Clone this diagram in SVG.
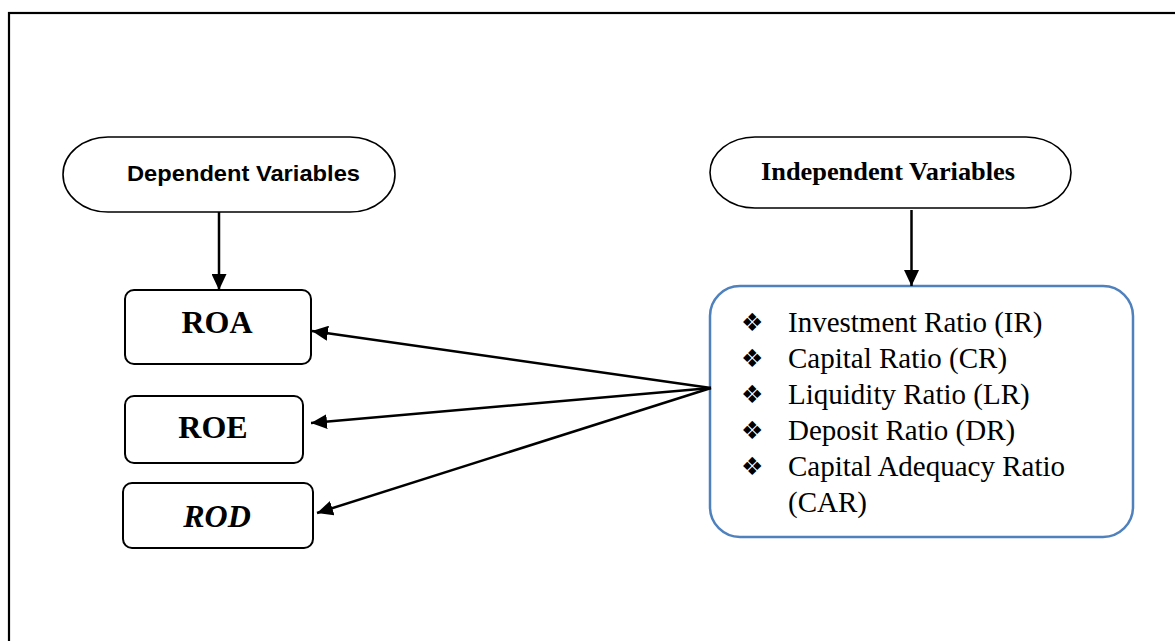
<svg xmlns="http://www.w3.org/2000/svg" width="1175" height="641" viewBox="0 0 1175 641">
<defs>
<style>
.frame{fill:none;stroke:#000;stroke-width:2.2}
.oval{fill:#fff;stroke:#000;stroke-width:1.6}
.box{fill:#fff;stroke:#000;stroke-width:2}
.blue{fill:#fff;stroke:#4f81bd;stroke-width:2.5}
.conn{stroke:#000;stroke-width:2.5;fill:none}
.tnr{font-family:"Liberation Serif","Times New Roman",serif;fill:#000}
.sans{font-family:"Liberation Sans",Arial,sans-serif;fill:#000}
.bul{font-family:"DejaVu Sans",sans-serif;font-size:25px;fill:#000}
</style>
<marker id="ah" markerUnits="userSpaceOnUse" markerWidth="17" markerHeight="15" refX="16" refY="7.5" orient="auto">
<path d="M0,0 L16,7.5 L0,15 Z" fill="#000"/>
</marker>
</defs>
<rect width="1175" height="641" fill="#fff"/>
<rect class="frame" x="9" y="13" width="1180" height="640"/>

<g id="dependent-variables">
<rect class="oval" x="63" y="137" width="332" height="75" rx="45" ry="37.5"/>
<text class="sans" x="127" y="181" font-size="22.5" font-weight="bold" textLength="233" lengthAdjust="spacingAndGlyphs">Dependent Variables</text>
</g>

<g id="independent-variables">
<rect class="oval" x="710" y="137" width="361" height="71" rx="45" ry="35.5"/>
<text class="tnr" x="761" y="180" font-size="25" font-weight="bold" textLength="254" lengthAdjust="spacingAndGlyphs">Independent Variables</text>
</g>

<g id="roa">
<rect class="box" x="125" y="290" width="186" height="74" rx="9"/>
<text class="tnr" x="217" y="333" font-size="32" font-weight="bold" text-anchor="middle">ROA</text>
</g>

<g id="roe">
<rect class="box" x="125" y="396" width="178" height="67" rx="9"/>
<text class="tnr" x="213" y="438" font-size="32" font-weight="bold" text-anchor="middle">ROE</text>
</g>

<g id="rod">
<rect class="box" x="123" y="483" width="190" height="65" rx="9"/>
<text class="tnr" x="217" y="527" font-size="32" font-weight="bold" font-style="italic" text-anchor="middle">ROD</text>
</g>

<g id="independent-list">
<rect class="blue" x="710" y="286" width="423" height="251" rx="30"/>
<g class="bul">
<text x="741" y="331">❖</text>
<text x="741" y="367">❖</text>
<text x="741" y="403">❖</text>
<text x="741" y="439">❖</text>
<text x="741" y="475">❖</text>
</g>
<g class="tnr" font-size="29">
<text x="788" y="332">Investment Ratio (IR)</text>
<text x="788" y="368">Capital Ratio (CR)</text>
<text x="788" y="404">Liquidity Ratio (LR)</text>
<text x="788" y="440">Deposit Ratio (DR)</text>
<text x="788" y="476">Capital Adequacy Ratio</text>
<text x="788" y="512">(CAR)</text>
</g>
</g>

<g id="connectors">
<line class="conn" x1="219" y1="212" x2="219" y2="290" marker-end="url(#ah)"/>
<line class="conn" x1="911.5" y1="210" x2="911.5" y2="286" marker-end="url(#ah)"/>
<line class="conn" x1="711" y1="388" x2="312" y2="331" marker-end="url(#ah)"/>
<line class="conn" x1="711" y1="388" x2="311" y2="423" marker-end="url(#ah)"/>
<line class="conn" x1="711" y1="388" x2="317" y2="513" marker-end="url(#ah)"/>
</g>
</svg>
